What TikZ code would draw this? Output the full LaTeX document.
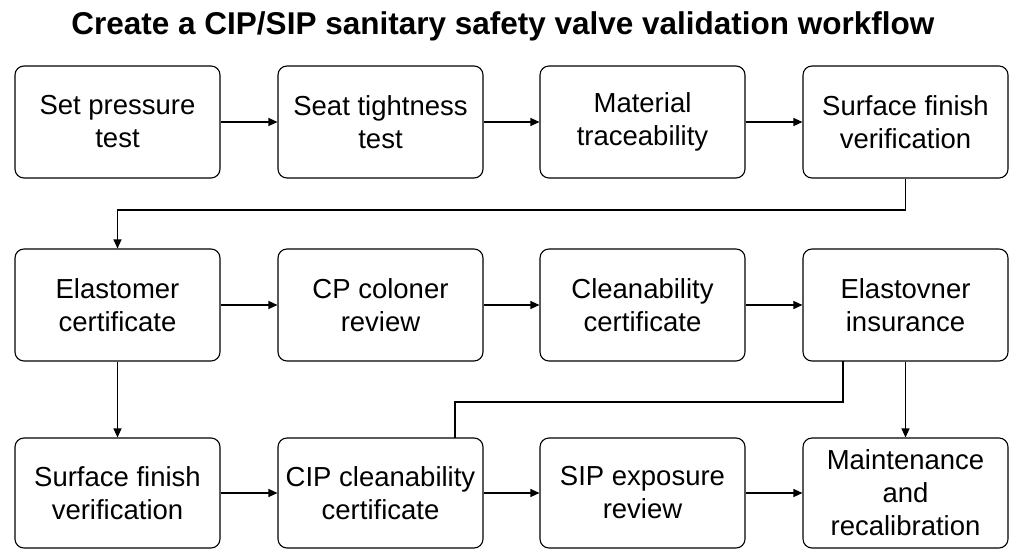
\documentclass[tikz,border=0pt]{standalone}
\usepackage{fontspec}
\setmainfont{Liberation Sans}
\usetikzlibrary{arrows.meta}
\begin{document}
\begin{tikzpicture}[x=1pt,y=-1pt,
  box/.style={draw,line width=1.1pt,rounded corners=9pt,minimum width=205pt,minimum height=112pt,align=center,font=\fontsize{27.5}{33}\selectfont,inner sep=2pt},
  arr/.style={line width=1.1pt,-{Triangle[length=9pt,width=8pt]}},
  ln/.style={line width=1.1pt}]
\useasboundingbox (0,0) rectangle (1024,559);
\node[font=\bfseries\fontsize{31.5}{36}\selectfont] (title) at (503,26) {Create a CIP/SIP sanitary safety valve validation workflow};
\node[box] (a1) at (117.5,122) {Set pressure\\test};
\node[box] (a2) at (380.5,122) {Seat tightness\\test};
\node[box] (a3) at (642.5,122) {Material\\traceability};
\node[box] (a4) at (905.5,122) {Surface finish\\verification};
\node[box] (b1) at (117.5,305) {Elastomer\\certificate};
\node[box] (b2) at (380.5,305) {CP coloner\\review};
\node[box] (b3) at (642.5,305) {Cleanability\\certificate};
\node[box] (b4) at (905.5,305) {Elastovner\\insurance};
\node[box,minimum height=110pt] (c1) at (117.5,493) {Surface finish\\verification};
\node[box,minimum height=110pt] (c2) at (380.5,493) {CIP cleanability\\certificate};
\node[box,minimum height=110pt] (c3) at (642.5,493) {SIP exposure\\review};
\node[box,minimum height=110pt] (c4) at (905.5,493) {Maintenance\\and\\recalibration};
\draw[arr] (a1) -- (a2);
\draw[arr] (a2) -- (a3);
\draw[arr] (a3) -- (a4);
\draw[arr] (a4.south) -- (905.5,210) -- (117.5,210) -- (b1.north);
\draw[arr] (b1) -- (b2);
\draw[arr] (b2) -- (b3);
\draw[arr] (b3) -- (b4);
\draw[arr] (b1) -- (c1);
\draw[ln] (843,361) -- (843,402) -- (455,402) -- (455,438);
\draw[arr] (b4) -- (c4);
\draw[arr] (c1) -- (c2);
\draw[arr] (c2) -- (c3);
\draw[arr] (c3) -- (c4);
\end{tikzpicture}
\end{document}
